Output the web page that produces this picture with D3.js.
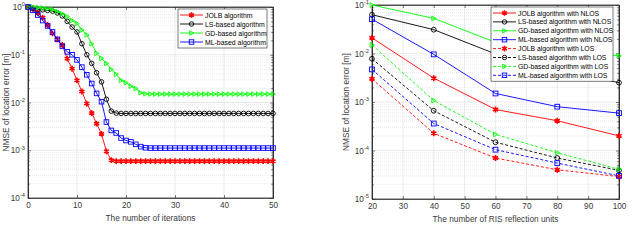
<!DOCTYPE html>
<html>
<head>
<meta charset="utf-8">
<script src="https://cdn.jsdelivr.net/npm/d3@7/dist/d3.min.js"></script>
<style>
  body { margin: 0; background: #fff; }
  svg { display: block; font-family: 'Liberation Sans', Arial, sans-serif; }
</style>
</head>
<body>
<svg id="chart" width="640" height="241"></svg>
<script>
// ---- left panel data (NMSE vs iteration) ----
const iterations = d3.range(0, 51);
const jolbIter = [
  1.0, 0.9, 0.75, 0.6, 0.42, 0.28, 0.21, 0.16, 0.083, 0.051,
  0.029, 0.017, 0.0095, 0.006, 0.0036, 0.0022, 0.00095, 0.00062, 0.00059, 0.00059,
  0.00059, 0.00059, 0.00059, 0.00059, 0.00059, 0.00059, 0.00059, 0.00059, 0.00059, 0.00059,
  0.00059, 0.00059, 0.00059, 0.00059, 0.00059, 0.00059, 0.00059, 0.00059, 0.00059, 0.00059,
  0.00059, 0.00059, 0.00059, 0.00059, 0.00059, 0.00059, 0.00059, 0.00059, 0.00059, 0.00059,
  0.00059
];
const lsIter = [
  1.0, 0.95, 0.9, 0.87, 0.85, 0.82, 0.75, 0.65, 0.5, 0.38,
  0.3, 0.17, 0.1, 0.066, 0.042, 0.027, 0.0117, 0.0066, 0.006, 0.0059,
  0.0059, 0.0059, 0.0059, 0.0059, 0.0059, 0.0059, 0.0059, 0.0059, 0.0059, 0.0059,
  0.0059, 0.0059, 0.0059, 0.0059, 0.0059, 0.0059, 0.0059, 0.0059, 0.0059, 0.0059,
  0.0059, 0.0059, 0.0059, 0.0059, 0.0059, 0.0059, 0.0059, 0.0059, 0.0059, 0.0059,
  0.0059
];
const gdIter = [
  1.0, 1.0, 0.98, 0.96, 0.93, 0.88, 0.8, 0.72, 0.63, 0.52,
  0.45, 0.33, 0.26, 0.17, 0.107, 0.084, 0.066, 0.049, 0.039, 0.029,
  0.026, 0.022, 0.0196, 0.016, 0.0152, 0.015, 0.015, 0.015, 0.015, 0.015,
  0.015, 0.015, 0.015, 0.015, 0.015, 0.015, 0.015, 0.015, 0.015, 0.015,
  0.015, 0.015, 0.015, 0.015, 0.015, 0.015, 0.015, 0.015, 0.015, 0.015,
  0.015
];
const mlIter = [
  1.0, 0.85, 0.68, 0.52, 0.4, 0.3, 0.21, 0.15, 0.115, 0.1,
  0.078, 0.055, 0.038, 0.025, 0.0155, 0.0104, 0.0039, 0.0026, 0.0023, 0.0018,
  0.0016, 0.0015, 0.00133, 0.00119, 0.00113, 0.00111, 0.00111, 0.00111, 0.00111, 0.00111,
  0.00111, 0.00111, 0.00111, 0.00111, 0.00111, 0.00111, 0.00111, 0.00111, 0.00111, 0.00111,
  0.00111, 0.00111, 0.00111, 0.00111, 0.00111, 0.00111, 0.00111, 0.00111, 0.00111, 0.00111,
  0.00111
];
const iterTicksX = [0, 10, 20, 30, 40, 50];
const iterTicksY = [1e-4, 1e-3, 1e-2, 1e-1, 1];

// ---- right panel data (NMSE vs RIS units) ----
const risUnits = [20, 40, 60, 80, 100];
const jolbNlos = [0.021, 0.0031, 0.0007, 0.00041, 0.0002];
const lsNlos = [0.063, 0.031, 0.0098, 0.0048, 0.0025];
const gdNlos = [0.1, 0.053, 0.017, 0.011, 0.009];
const mlNlos = [0.051, 0.0096, 0.0015, 0.0008, 0.00059];
const jolbLos = [0.003, 0.000226, 0.00007, 0.00004, 0.000029];
const lsLos = [0.0078, 0.00066, 0.000148, 0.00007, 0.000039];
const gdLos = [0.015, 0.00107, 0.000215, 0.00009, 0.000041];
const mlLos = [0.0047, 0.00036, 0.000104, 0.000055, 0.00003];
const risTicksX = [20, 30, 40, 50, 60, 70, 80, 90, 100];
const risTicksY = [1e-5, 1e-4, 1e-3, 1e-2, 1e-1];

const AXIS_COLOR = '#262626';
const TEXT_COLOR = '#3a3a3a';
const svg = d3.select('#chart');

// marker shapes, drawn centred at 0,0
function drawMarker(sel, type, color, s) {
  if (type === 'star') {
    sel.append('path')
      .attr('d', d3.symbol(d3.symbolAsterisk, s * s * 1.1)())
      .attr('fill', 'none').attr('stroke', color).attr('stroke-width', 1.6);
  } else if (type === 'circle') {
    sel.append('circle').attr('r', s / 2)
      .attr('fill', 'none').attr('stroke', color).attr('stroke-width', 0.9);
  } else if (type === 'square') {
    sel.append('rect').attr('x', -s / 2).attr('y', -s / 2).attr('width', s).attr('height', s)
      .attr('fill', 'none').attr('stroke', color).attr('stroke-width', 0.9);
  } else if (type === 'triangle') {
    const h = s / 2;
    sel.append('path')
      .attr('d', `M${-h * 0.8},${-h}L${h * 1.0},0L${-h * 0.8},${h}Z`)
      .attr('fill', 'none').attr('stroke', color).attr('stroke-width', 0.9);
  }
}

function supLabels(g, fontSize) {
  g.selectAll('.tick text').each(function (d) {
    const t = d3.select(this);
    t.text('10');
    t.append('tspan').attr('dy', -fontSize * 0.45).attr('font-size', fontSize * 0.7)
      .text(Math.round(Math.log10(d)));
  });
}

function drawPanel(cfg) {
  const { left, right, top, bottom } = cfg.box;
  const x = d3.scaleLinear().domain(cfg.xDomain).range([left, right]);
  const y = d3.scaleLog().domain(cfg.yDomain).range([bottom, top]);
  const g = svg.append('g');

  // minor grid (dotted) and major grid
  const minorY = [];
  const [lo, hi] = cfg.yDomain.map(v => Math.round(Math.log10(v)));
  for (let e = lo; e < hi; e++) {
    for (let m = 2; m <= 9; m++) minorY.push(m * Math.pow(10, e));
  }
  g.append('g').selectAll('line').data(minorY).join('line')
    .attr('x1', left).attr('x2', right).attr('y1', d => y(d)).attr('y2', d => y(d))
    .attr('stroke', '#d4d4d4').attr('stroke-width', 0.5).attr('stroke-dasharray', '1,1');
  g.append('g').selectAll('line').data(cfg.yTicks).join('line')
    .attr('x1', left).attr('x2', right).attr('y1', d => y(d)).attr('y2', d => y(d))
    .attr('stroke', '#dedede').attr('stroke-width', 0.6);
  g.append('g').selectAll('line').data(cfg.xTicks).join('line')
    .attr('x1', d => x(d)).attr('x2', d => x(d)).attr('y1', top).attr('y2', bottom)
    .attr('stroke', '#dedede').attr('stroke-width', 0.6);

  // axes
  const fs = 8.2;
  const xAxis = g.append('g').attr('transform', `translate(0,${bottom})`)
    .call(d3.axisBottom(x).tickValues(cfg.xTicks).tickSizeInner(-3).tickSizeOuter(0).tickPadding(4));
  const yAxis = g.append('g').attr('transform', `translate(${left},0)`)
    .call(d3.axisLeft(y).tickValues(cfg.yTicks).tickSizeInner(-3).tickSizeOuter(0).tickPadding(3));
  g.append('g').attr('transform', `translate(0,${top})`)
    .call(d3.axisTop(x).tickValues(cfg.xTicks).tickSizeInner(-3).tickSizeOuter(0).tickFormat(''));
  g.append('g').attr('transform', `translate(${right},0)`)
    .call(d3.axisRight(y).tickValues(cfg.yTicks).tickSizeInner(-3).tickSizeOuter(0).tickFormat(''));
  g.append('g').attr('transform', `translate(${left},0)`)
    .call(d3.axisLeft(y).tickValues(minorY).tickSizeInner(-1.8).tickSizeOuter(0).tickFormat(''));
  g.append('g').attr('transform', `translate(${right},0)`)
    .call(d3.axisRight(y).tickValues(minorY).tickSizeInner(-1.8).tickSizeOuter(0).tickFormat(''));
  g.selectAll('.domain').attr('stroke', AXIS_COLOR).attr('stroke-width', 0.7);
  g.selectAll('.tick line').attr('stroke', AXIS_COLOR).attr('stroke-width', 0.6);
  g.selectAll('.tick text').attr('fill', TEXT_COLOR).attr('font-size', fs)
    .attr('font-family', "'Liberation Sans', Arial, sans-serif");
  supLabels(yAxis, fs);
  g.append('rect').attr('x', left).attr('y', top).attr('width', right - left).attr('height', bottom - top)
    .attr('fill', 'none').attr('stroke', AXIS_COLOR).attr('stroke-width', 0.7);

  // axis titles
  g.append('text').attr('x', (left + right) / 2).attr('y', bottom + 23)
    .attr('text-anchor', 'middle').attr('font-size', 8.3).attr('fill', TEXT_COLOR)
    .text(cfg.xLabel);
  g.append('text').attr('transform', `translate(${cfg.yLabelX},${(top + bottom) / 2}) rotate(-90)`)
    .attr('text-anchor', 'middle').attr('font-size', 8.3).attr('fill', TEXT_COLOR)
    .text('NMSE of location error [m]');

  // series
  const line = d3.line().x((d, i) => x(cfg.xs[i])).y(d => y(d));
  cfg.series.forEach(s => {
    g.append('path').datum(s.values).attr('d', line)
      .attr('fill', 'none').attr('stroke', s.color).attr('stroke-width', 0.9)
      .attr('stroke-dasharray', s.dash ? '3,2' : null);
    s.values.forEach((v, i) => {
      const m = g.append('g').attr('transform', `translate(${x(cfg.xs[i])},${y(v)})`);
      drawMarker(m, s.marker, s.color, cfg.markerSize);
    });
  });

  // legend
  const L = cfg.legend;
  const lg = g.append('g');
  lg.append('rect').attr('x', L.x).attr('y', L.y).attr('width', L.w)
    .attr('height', L.step * cfg.series.length + 3)
    .attr('fill', '#fff').attr('stroke', AXIS_COLOR).attr('stroke-width', 0.6);
  cfg.series.forEach((s, i) => {
    const cy = L.y + 6 + i * L.step;
    lg.append('line').attr('x1', L.x + 2).attr('x2', L.x + 25).attr('y1', cy).attr('y2', cy)
      .attr('stroke', s.color).attr('stroke-width', 0.9)
      .attr('stroke-dasharray', s.dash ? '3,2' : null);
    const m = lg.append('g').attr('transform', `translate(${L.x + 13.5},${cy})`);
    drawMarker(m, s.marker, s.color, 4.5);
    lg.append('text').attr('x', L.x + 27).attr('y', cy + 2.5)
      .attr('font-size', 6.9).attr('letter-spacing', L.spacing).attr('fill', '#000').text(s.name);
  });
}

drawPanel({
  box: { left: 28, right: 273, top: 7, bottom: 198 },
  xDomain: [0, 50], yDomain: [1e-4, 1],
  xTicks: iterTicksX, yTicks: iterTicksY, xs: iterations,
  xLabel: 'The number of iterations', yLabelX: 8.5,
  markerSize: 4.6,
  legend: { x: 178, y: 9, w: 89, step: 9, spacing: 0 },
  series: [
    { name: 'JOLB algorithm', values: jolbIter, color: '#ff0000', marker: 'star' },
    { name: 'LS-based algorithm', values: lsIter, color: '#000000', marker: 'circle' },
    { name: 'GD-based algorithm', values: gdIter, color: '#00ff00', marker: 'triangle' },
    { name: 'ML-based algorithm', values: mlIter, color: '#0000ff', marker: 'square' }
  ]
});

drawPanel({
  box: { left: 372, right: 619, top: 5, bottom: 199 },
  xDomain: [20, 100], yDomain: [1e-5, 1e-1],
  xTicks: risTicksX, yTicks: risTicksY, xs: risUnits,
  xLabel: 'The number of RIS reflection units', yLabelX: 349,
  markerSize: 4.8,
  legend: { x: 491, y: 7, w: 122, step: 8.9, spacing: -0.05 },
  series: [
    { name: 'JOLB algorithm with NLOS', values: jolbNlos, color: '#ff0000', marker: 'star' },
    { name: 'LS-based algorithm with NLOS', values: lsNlos, color: '#000000', marker: 'circle' },
    { name: 'GD-based algorithm with NLOS', values: gdNlos, color: '#00ff00', marker: 'triangle' },
    { name: 'ML-based algorithm with NLOS', values: mlNlos, color: '#0000ff', marker: 'square' },
    { name: 'JOLB algorithm with LOS', values: jolbLos, color: '#ff0000', marker: 'star', dash: true },
    { name: 'LS-based algorithm with LOS', values: lsLos, color: '#000000', marker: 'circle', dash: true },
    { name: 'GD-based algorithm with LOS', values: gdLos, color: '#00ff00', marker: 'triangle', dash: true },
    { name: 'ML-based algorithm with LOS', values: mlLos, color: '#0000ff', marker: 'square', dash: true }
  ]
});
</script>
</body>
</html>
